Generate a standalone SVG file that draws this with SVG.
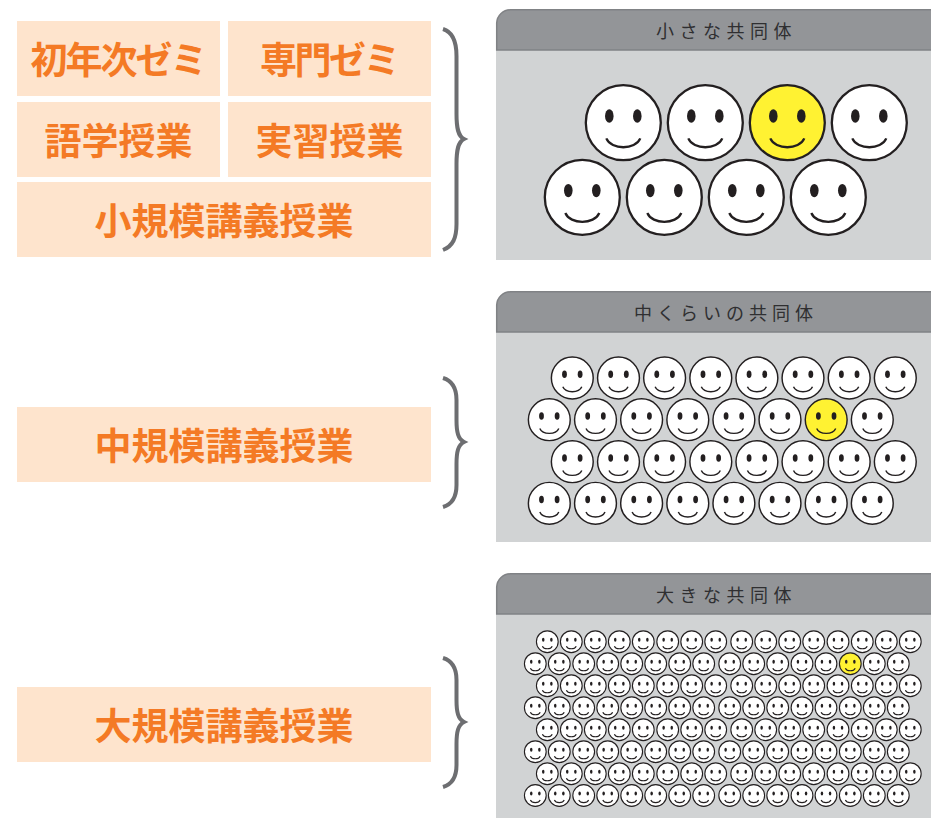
<svg xmlns="http://www.w3.org/2000/svg" xmlns:xlink="http://www.w3.org/1999/xlink" width="931" height="818" viewBox="0 0 931 818">
<style>
.box{fill:#fee4cd}
.lab{font-family:"Noto Sans CJK JP","Noto Sans CJK SC",sans-serif;font-weight:700;font-size:37px;fill:#f47a25;text-anchor:middle}
.head{fill:#939598;stroke:#808285;stroke-width:1.5}
.body{fill:#d1d3d4}
.title{font-family:"Noto Sans CJK JP","Noto Sans CJK SC",sans-serif;font-size:18px;fill:#2f2f31;letter-spacing:5.5px}
.brace{fill:none;stroke:#6d6e71;stroke-width:4}
.faces{fill:#fff;stroke:#231f20}
.y{fill:#fff232}
</style>
<defs>
<g id="face">
<circle r="37.5"/>
<ellipse cx="-14" cy="-6.7" rx="4.3" ry="6.7" fill="#231f20" stroke="none"/>
<ellipse cx="14" cy="-6.7" rx="4.3" ry="6.7" fill="#231f20" stroke="none"/>
<path d="M-17 15.7C-12 27.5 12 27.5 17 15.7" fill="none"/>
</g>
<g id="fl"><use href="#face" stroke-width="2.3"/></g>
<g id="fm"><use href="#face" transform="scale(.558)" stroke-width="2.6"/></g>
<g id="fs"><use href="#face" transform="scale(.29)" stroke-width="3.8"/></g>
<g id="mA">
<use href="#fm" x="572.3"/><use href="#fm" x="618.5"/><use href="#fm" x="664.6"/><use href="#fm" x="710.8"/><use href="#fm" x="756.9"/><use href="#fm" x="803"/><use href="#fm" x="849.2"/><use href="#fm" x="895.3"/>
</g>
<g id="sA">
<use href="#fs" x="547.3"/><use href="#fs" x="571.3"/><use href="#fs" x="595.3"/><use href="#fs" x="619.3"/><use href="#fs" x="643.3"/><use href="#fs" x="667.7"/><use href="#fs" x="691.7"/><use href="#fs" x="715.7"/><use href="#fs" x="741.7"/><use href="#fs" x="765.7"/><use href="#fs" x="789.7"/><use href="#fs" x="813.7"/><use href="#fs" x="838"/><use href="#fs" x="862.3"/><use href="#fs" x="886.3"/><use href="#fs" x="910.3"/>
</g>
</defs>
<rect width="931" height="818" fill="#fff"/>
<g id="node-first-year"><rect class="box" x="17" y="21" width="203" height="75"/><text class="lab" x="118" y="73.500" letter-spacing="-2">初年次ゼミ</text></g>
<g id="node-senmon"><rect class="box" x="228" y="21" width="203" height="75"/><text class="lab" x="329" y="73.500" letter-spacing="-2.500">専門ゼミ</text></g>
<g id="node-language"><rect class="box" x="17" y="102" width="203" height="75"/><text class="lab" x="118.500" y="154.500">語学授業</text></g>
<g id="node-practice"><rect class="box" x="228" y="102" width="203" height="75"/><text class="lab" x="329.500" y="154.500">実習授業</text></g>
<g id="node-small"><rect class="box" x="17" y="182" width="414" height="75"/><text class="lab" x="224" y="235">小規模講義授業</text></g>
<g id="node-medium"><rect class="box" x="17" y="407" width="414" height="75"/><text class="lab" x="224" y="460">中規模講義授業</text></g>
<g id="node-large"><rect class="box" x="17" y="687" width="414" height="75"/><text class="lab" x="224" y="740">大規模講義授業</text></g>
<g id="connectors">
<path class="brace" d="M443 29C453 32 456.500 42 456.500 56V114C456.500 128 458 136 464 139C458 142 456.500 150 456.500 164V224C456.500 238 453 246 443 250"/>
<path class="brace" d="M443 378C453 381 456.500 389 456.500 400V420C456.500 432 458 439 464 442C458 445 456.500 452 456.500 464V485C456.500 496 453 504 443 507"/>
<path class="brace" d="M443 658C453 661 456.500 669 456.500 680V700C456.500 712 458 719 464 722C458 725 456.500 732 456.500 744V765C456.500 776 453 784 443 787"/>
</g>
<g id="panel-small">
<rect class="body" x="496" y="50" width="435" height="210"/>
<path class="head" d="M496.700 50V23A14 14 0 0 1 510.700 9.700H932V50Z"/>
<text class="title" x="656" y="38">小さな共同体</text>
<g class="faces">
<use href="#fl" x="623.3" y="122.7"/><use href="#fl" x="705.3" y="122.7"/><use href="#fl" class="y" x="787.3" y="122.700"/><use href="#fl" x="869.3" y="122.7"/>
<use href="#fl" x="582.3" y="197.3"/><use href="#fl" x="664.3" y="197.3"/><use href="#fl" x="746.3" y="197.3"/><use href="#fl" x="828.3" y="197.3"/>
</g>
</g>
<g id="panel-medium">
<rect class="body" x="496" y="332" width="435" height="210"/>
<path class="head" d="M496.700 332V305A14 14 0 0 1 510.700 291.700H932V332Z"/>
<text class="title" x="634" y="320" style="letter-spacing:5px">中くらいの共同体</text>
<g class="faces">
<use href="#mA" y="378"/>
<use href="#fm" x="549.3" y="419.7"/><use href="#fm" x="595.5" y="419.7"/><use href="#fm" x="641.6" y="419.7"/><use href="#fm" x="687.8" y="419.7"/><use href="#fm" x="733.9" y="419.7"/><use href="#fm" x="780" y="419.7"/><use href="#fm" class="y" x="826.2" y="419.7"/><use href="#fm" x="872.3" y="419.7"/>
<use href="#mA" y="461.7"/>
<use href="#fm" x="549.3" y="503.3"/><use href="#fm" x="595.5" y="503.3"/><use href="#fm" x="641.6" y="503.3"/><use href="#fm" x="687.8" y="503.3"/><use href="#fm" x="733.9" y="503.3"/><use href="#fm" x="780" y="503.3"/><use href="#fm" x="826.2" y="503.3"/><use href="#fm" x="872.3" y="503.3"/>
</g>
</g>
<g id="panel-large">
<rect class="body" x="496" y="614" width="435" height="204"/>
<path class="head" d="M496.700 614V587A14 14 0 0 1 510.700 573.700H932V614Z"/>
<text class="title" x="656" y="602">大きな共同体</text>
<g class="faces">
<use href="#sA" y="641.7"/>
<g transform="translate(0,663.7)"><use href="#fs" x="535.3"/><use href="#fs" x="559.3"/><use href="#fs" x="583.7"/><use href="#fs" x="607.7"/><use href="#fs" x="631.7"/><use href="#fs" x="655.7"/><use href="#fs" x="679.7"/><use href="#fs" x="703.7"/><use href="#fs" x="729.7"/><use href="#fs" x="753.7"/><use href="#fs" x="777.7"/><use href="#fs" x="802"/><use href="#fs" x="826"/><use href="#fs" class="y" x="850.3"/><use href="#fs" x="874.3"/><use href="#fs" x="898.3"/></g>
<use href="#sA" y="685.7"/>
<g transform="translate(0,707.7)"><use href="#fs" x="535.3"/><use href="#fs" x="559.3"/><use href="#fs" x="583.7"/><use href="#fs" x="607.7"/><use href="#fs" x="631.7"/><use href="#fs" x="655.7"/><use href="#fs" x="679.7"/><use href="#fs" x="703.7"/><use href="#fs" x="729.7"/><use href="#fs" x="753.7"/><use href="#fs" x="777.7"/><use href="#fs" x="802"/><use href="#fs" x="826"/><use href="#fs" x="850.3"/><use href="#fs" x="874.3"/><use href="#fs" x="898.3"/></g>
<use href="#sA" y="729.7"/>
<g transform="translate(0,751.7)"><use href="#fs" x="535.3"/><use href="#fs" x="559.3"/><use href="#fs" x="583.7"/><use href="#fs" x="607.7"/><use href="#fs" x="631.7"/><use href="#fs" x="655.7"/><use href="#fs" x="679.7"/><use href="#fs" x="703.7"/><use href="#fs" x="729.7"/><use href="#fs" x="753.7"/><use href="#fs" x="777.7"/><use href="#fs" x="802"/><use href="#fs" x="826"/><use href="#fs" x="850.3"/><use href="#fs" x="874.3"/><use href="#fs" x="898.3"/></g>
<use href="#sA" y="773.7"/>
<g transform="translate(0,795.5)"><use href="#fs" x="535.3"/><use href="#fs" x="559.3"/><use href="#fs" x="583.7"/><use href="#fs" x="607.7"/><use href="#fs" x="631.7"/><use href="#fs" x="655.7"/><use href="#fs" x="679.7"/><use href="#fs" x="703.7"/><use href="#fs" x="729.7"/><use href="#fs" x="753.7"/><use href="#fs" x="777.7"/><use href="#fs" x="802"/><use href="#fs" x="826"/><use href="#fs" x="850.3"/><use href="#fs" x="874.3"/><use href="#fs" x="898.3"/></g>
</g>
</g>
</svg>
